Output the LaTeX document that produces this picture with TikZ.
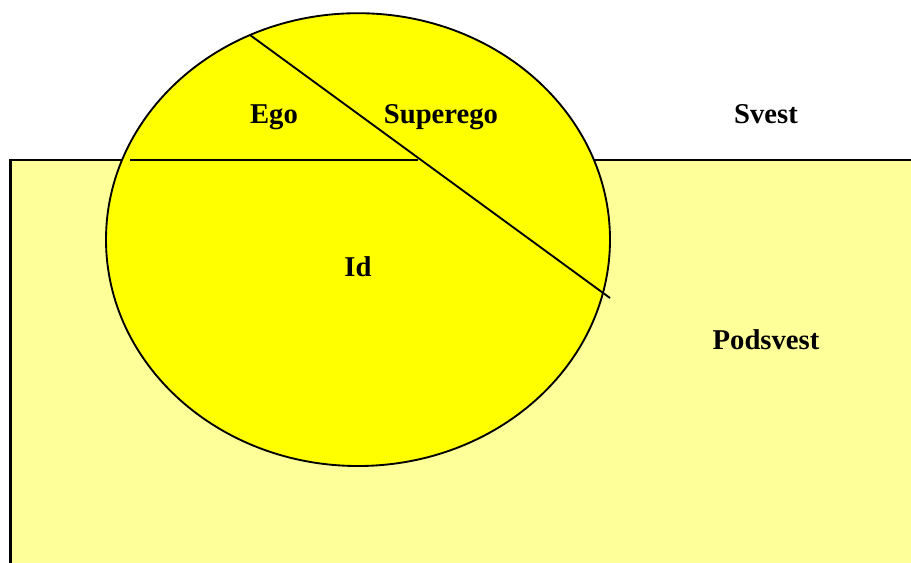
\documentclass[tikz,border=0pt]{standalone}
\usepackage{fontspec}
\setmainfont{Liberation Serif}
\definecolor{giallo}{RGB}{255,255,0}
\definecolor{giallochiaro}{RGB}{255,255,153}
\tikzset{
  etichetta/.style={font=\fontsize{21.5}{25}\selectfont\bfseries, anchor=base, inner sep=0pt},
  bordo/.style={draw=black, line width=1.4pt}
}
\begin{document}
\begin{tikzpicture}[x=0.75pt, y=-0.75pt]
    \useasboundingbox (0,0) rectangle (911,562);
    \clip (0,0) rectangle (911,562);
    % zona inconscia
    \fill[giallochiaro] (10.5,160) rectangle (940,600);
    \draw[bordo, line width=1.8pt] (10.5,600) -- (10.5,160) -- (940,160);
    % psiche
    \filldraw[bordo, fill=giallo] (358,239.6) ellipse [x radius=252, y radius=226.4];
    \coordinate (h1) at (130,160);
    \coordinate (h2) at (418,160);
    \coordinate (d1) at (250,35);
    \coordinate (d2) at (610,298);
    \draw[bordo] (h1) -- (h2);
    \draw[bordo] (d1) -- (d2);
    % etichette
    \node[etichetta] (ego) at (274,123) {Ego};
    \node[etichetta] (superego) at (441,123) {Superego};
    \node[etichetta] (svest) at (766,123) {Svest};
    \node[etichetta] (id) at (358,276) {Id};
    \node[etichetta] (podsvest) at (766,349) {Podsvest};
  \end{tikzpicture}
\end{document}
